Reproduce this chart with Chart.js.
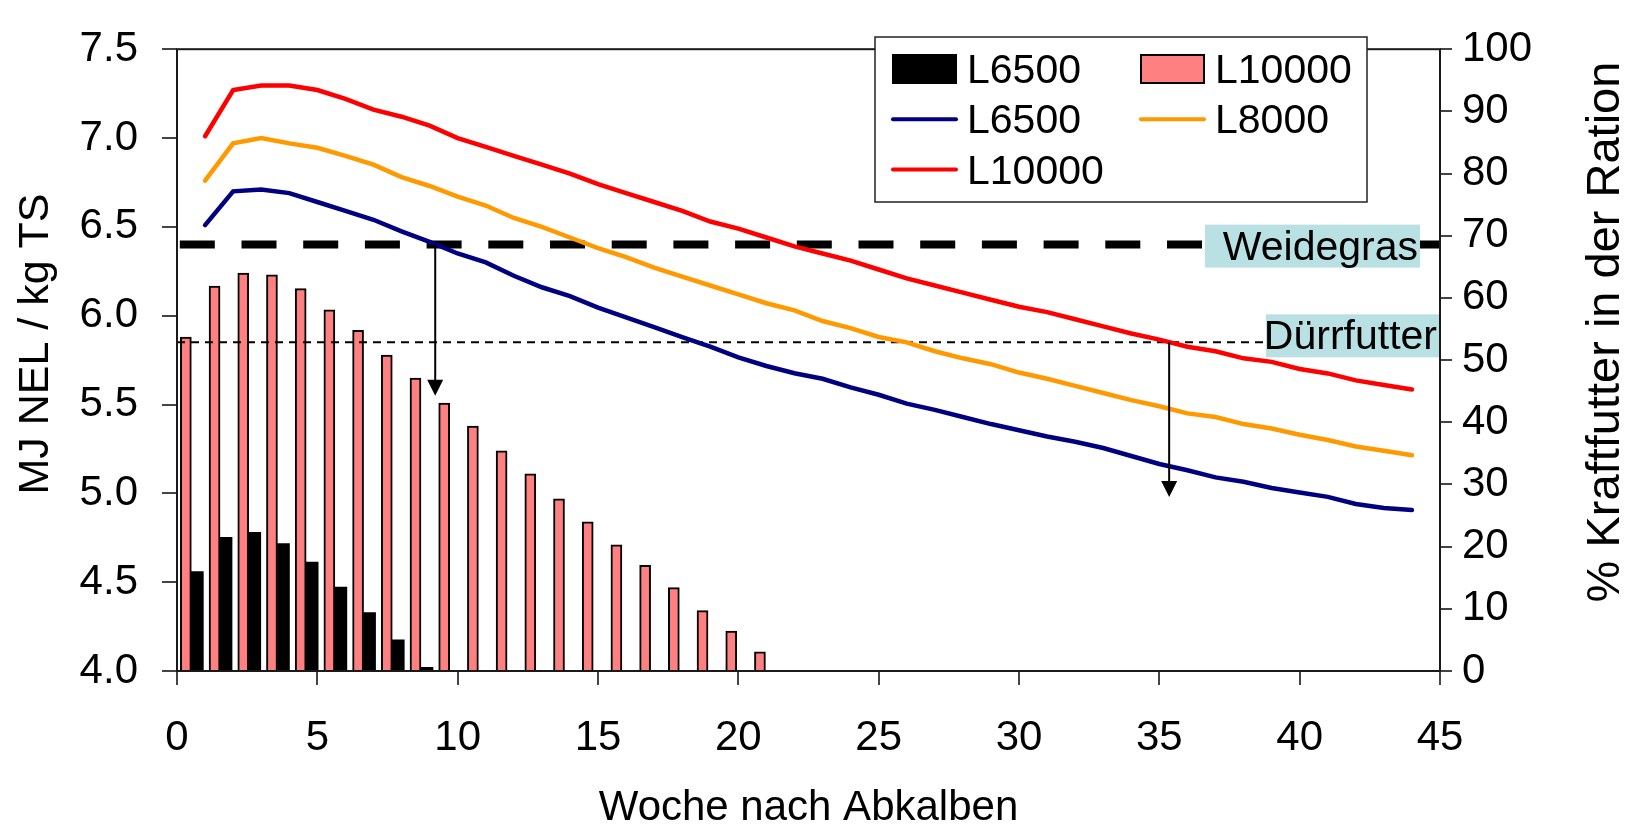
<!DOCTYPE html>
<html>
<head>
<meta charset="utf-8">
<script src="https://cdn.jsdelivr.net/npm/chart.js@4/dist/chart.umd.min.js"></script>
<style>
  html, body { margin: 0; padding: 0; background: #fff; }
  #wrap { width: 1627px; height: 830px; position: relative; }
</style>
</head>
<body>
<div id="wrap"><canvas id="chart"></canvas></div>
<script>
// Wochen nach dem Abkalben
const weeks = [1, 2, 3, 4, 5, 6, 7, 8, 9, 10, 11, 12, 13, 14, 15, 16, 17, 18, 19, 20, 21, 22,
               23, 24, 25, 26, 27, 28, 29, 30, 31, 32, 33, 34, 35, 36, 37, 38, 39, 40, 41, 42, 43, 44];

// Energiebedarf in der Ration (MJ NEL / kg TS)
const nel6500 = [6.51, 6.70, 6.71, 6.69, 6.64, 6.59, 6.54, 6.475, 6.415, 6.35, 6.30, 6.225, 6.16, 6.11, 6.045,
                 5.99, 5.935, 5.88, 5.826, 5.765, 5.717, 5.676, 5.645, 5.596, 5.555, 5.505, 5.47, 5.43, 5.39, 5.355,
                 5.32, 5.29, 5.255, 5.21, 5.165, 5.13, 5.09, 5.065, 5.03, 5.005, 4.98, 4.94, 4.917, 4.906];
const nel8000 = [6.76, 6.97, 7.00, 6.97, 6.945, 6.90, 6.85, 6.78, 6.73, 6.67, 6.62, 6.55, 6.50, 6.44, 6.38,
                 6.33, 6.27, 6.22, 6.17, 6.12, 6.07, 6.03, 5.97, 5.93, 5.88, 5.85, 5.80, 5.76, 5.727, 5.68,
                 5.645, 5.605, 5.565, 5.525, 5.49, 5.45, 5.43, 5.39, 5.365, 5.33, 5.30, 5.264, 5.24, 5.214];
const nel10000 = [7.01, 7.27, 7.295, 7.295, 7.27, 7.22, 7.16, 7.12, 7.07, 7.00, 6.95, 6.90, 6.85, 6.80, 6.74,
                  6.69, 6.64, 6.59, 6.53, 6.49, 6.44, 6.39, 6.35, 6.31, 6.26, 6.21, 6.17, 6.13, 6.09, 6.05,
                  6.02, 5.98, 5.94, 5.90, 5.865, 5.825, 5.80, 5.76, 5.74, 5.70, 5.675, 5.636, 5.61, 5.585];

// Kraftfutteranteil in der Ration (%)
const kf6500 = [16.0, 21.5, 22.3, 20.5, 17.5, 13.5, 9.4, 5.0, 0.6];
const kf10000 = [53.7, 61.9, 64.0, 63.7, 61.5, 58.1, 54.8, 50.8, 47.1, 43.1, 39.4,
                 35.4, 31.7, 27.7, 24.0, 20.3, 17.0, 13.4, 9.7, 6.4, 3.1];

// Grundfutter-Niveaus und Pfeile (Woche, von, bis)
const weidegras = 6.4;
const duerrfutter = 5.85;
const arrows = [
  { week: 9.2, from: 6.4, to: 5.55 },
  { week: 35.35, from: 5.85, to: 4.98 }
];

const FONT = "'Liberation Sans', Arial, sans-serif";
const PINK = '#FF8080';

// Senkrechter Text, von unten nach oben gelesen
function vText(ctx, text, x, y, size) {
  ctx.save();
  ctx.translate(x, y);
  ctx.rotate(-Math.PI / 2);
  ctx.font = size + 'px ' + FONT;
  ctx.textAlign = 'center';
  ctx.textBaseline = 'alphabetic';
  ctx.fillStyle = '#000';
  ctx.fillText(text, 0, 0);
  ctx.restore();
}

const decor = {
  id: 'decor',
  afterDatasetsDraw(chart) {
    const { ctx, chartArea: a, scales } = chart;
    const xs = scales.x, ys = scales.y;
    ctx.save();

    // Beschriftungen der Grundfutterlinien
    ctx.font = '41px ' + FONT;
    ctx.textAlign = 'right';
    ctx.textBaseline = 'alphabetic';
    let yw = ys.getPixelForValue(weidegras);
    ctx.fillStyle = '#B9E0E3';
    ctx.fillRect(a.right - 235, yw - 20, 215, 43);
    ctx.fillStyle = '#000';
    ctx.fillText('Weidegras', a.right - 22, yw + 15);

    let yd = ys.getPixelForValue(duerrfutter);
    ctx.fillStyle = '#B9E0E3';
    ctx.fillRect(a.right - 174, yd - 28, 174, 43);
    ctx.fillStyle = '#000';
    ctx.fillText('Dürrfutter', a.right - 3, yd + 7);

    // Pfeile
    ctx.strokeStyle = '#000';
    ctx.fillStyle = '#000';
    ctx.lineWidth = 2;
    arrows.forEach(ar => {
      const px = xs.getPixelForValue(ar.week);
      const y0 = ys.getPixelForValue(ar.from);
      const y1 = ys.getPixelForValue(ar.to);
      ctx.beginPath();
      ctx.moveTo(px, y0);
      ctx.lineTo(px, y1 - 10);
      ctx.stroke();
      ctx.beginPath();
      ctx.moveTo(px - 8, y1 - 16);
      ctx.lineTo(px + 8, y1 - 16);
      ctx.lineTo(px, y1);
      ctx.closePath();
      ctx.fill();
    });

    // Rahmen des Diagrammbereichs
    ctx.lineWidth = 2;
    ctx.strokeStyle = '#1a1a1a';
    ctx.strokeRect(a.left, a.top, a.right - a.left, a.bottom - a.top);

    // Achsentitel links und rechts
    vText(ctx, 'MJ NEL / kg TS', 48, 344, 43);
    vText(ctx, '% Kraftfutter in der Ration', 1619, 332, 47);

    // Legende
    const lx = 875, ly = 37, lw = 492, lh = 165;
    ctx.fillStyle = '#fff';
    ctx.fillRect(lx, ly, lw, lh);
    ctx.lineWidth = 1.5;
    ctx.strokeStyle = '#222';
    ctx.strokeRect(lx, ly, lw, lh);

    const ds = chart.data.datasets;
    const items = [
      { d: ds[4], col: 0, row: 0 },
      { d: ds[3], col: 1, row: 0 },
      { d: ds[0], col: 0, row: 1 },
      { d: ds[1], col: 1, row: 1 },
      { d: ds[2], col: 0, row: 2 }
    ];
    ctx.font = '41px ' + FONT;
    ctx.textAlign = 'left';
    ctx.textBaseline = 'alphabetic';
    items.forEach(it => {
      const sx = lx + 17 + it.col * 248;
      const base = ly + 46 + it.row * 50.3;
      const cy = base - 14;
      if (it.d.type === 'line') {
        ctx.strokeStyle = it.d.borderColor;
        ctx.lineWidth = 4;
        ctx.lineCap = 'round';
        ctx.beginPath();
        ctx.moveTo(sx + 1, cy);
        ctx.lineTo(sx + 64, cy);
        ctx.stroke();
      } else {
        ctx.fillStyle = it.d.backgroundColor;
        ctx.fillRect(sx, cy - 15, 65, 30);
        if (it.d.borderWidth) {
          ctx.lineWidth = 2;
          ctx.strokeStyle = '#000';
          ctx.strokeRect(sx + 1, cy - 14, 63, 28);
        }
      }
      ctx.fillStyle = '#000';
      ctx.fillText(it.d.label, sx + 75, base);
    });

    ctx.restore();
  }
};

const linePts = vals => weeks.map((w, i) => ({ x: w, y: vals[i] }));

new Chart(document.getElementById('chart'), {
  type: 'bar',
  data: {
    labels: weeks,
    datasets: [
      { type: 'line', label: 'L6500', data: linePts(nel6500), xAxisID: 'x', yAxisID: 'y',
        borderColor: '#000080', borderWidth: 4.5, pointRadius: 0, tension: 0, borderCapStyle: 'round', order: 1 },
      { type: 'line', label: 'L8000', data: linePts(nel8000), xAxisID: 'x', yAxisID: 'y',
        borderColor: '#FF9900', borderWidth: 4.5, pointRadius: 0, tension: 0, borderCapStyle: 'round', order: 1 },
      { type: 'line', label: 'L10000', data: linePts(nel10000), xAxisID: 'x', yAxisID: 'y',
        borderColor: '#FF0000', borderWidth: 4.5, pointRadius: 0, tension: 0, borderCapStyle: 'round', order: 1 },
      { type: 'bar', label: 'L10000', data: kf10000, xAxisID: 'xBar', yAxisID: 'y2',
        backgroundColor: PINK, borderColor: '#000', borderWidth: 2, barThickness: 11, order: 3 },
      { type: 'bar', label: 'L6500', data: kf6500, xAxisID: 'xBar', yAxisID: 'y2',
        backgroundColor: '#000', borderWidth: 0, barThickness: 12, order: 3 },
      { type: 'line', label: 'Weidegras', data: [{ x: 0.1, y: weidegras }, { x: 45, y: weidegras }],
        xAxisID: 'x', yAxisID: 'y', borderColor: '#000', borderWidth: 8, borderDash: [35, 26.7],
        borderCapStyle: 'butt', pointRadius: 0, order: 2 },
      { type: 'line', label: 'Dürrfutter', data: [{ x: 0, y: duerrfutter }, { x: 45, y: duerrfutter }],
        xAxisID: 'x', yAxisID: 'y', borderColor: '#000', borderWidth: 2, borderDash: [8, 6],
        borderCapStyle: 'butt', pointRadius: 0, order: 2 }
    ]
  },
  options: {
    responsive: true,
    maintainAspectRatio: false,
    animation: false,
    layout: { padding: { top: 27, left: 0, right: 0, bottom: 0 } },
    plugins: { legend: { display: false }, tooltip: { enabled: false } },
    scales: {
      x: {
        type: 'linear', position: 'bottom', min: 0, max: 45, offset: false,
        grid: { display: true, drawOnChartArea: false, offset: false, tickLength: 14, color: '#444', lineWidth: 2 },
        border: { display: false },
        ticks: { stepSize: 5, padding: 28, color: '#000', font: { family: FONT, size: 42 } },
        title: { display: true, text: 'Woche nach Abkalben', color: '#000', padding: { top: 0, bottom: 1 },
                 font: { family: FONT, size: 42, lineHeight: 1 } },
        afterFit: s => { s.height = 159; }
      },
      xBar: {
        type: 'category', display: false, offset: true, labels: weeks,
        grid: { offset: true }
      },
      y: {
        position: 'left', min: 4, max: 7.5,
        grid: { display: true, drawOnChartArea: false, tickLength: 15, color: '#444', lineWidth: 2 },
        border: { display: false },
        ticks: { stepSize: 0.5, padding: 24, color: '#000', font: { family: FONT, size: 42 },
                 callback: v => v.toFixed(1) },
        afterFit: s => { s.width = 177; }
      },
      y2: {
        position: 'right', min: 0, max: 100,
        grid: { display: true, drawOnChartArea: false, tickLength: 12, color: '#444', lineWidth: 2 },
        border: { display: false },
        ticks: { stepSize: 10, padding: 10, color: '#000', font: { family: FONT, size: 42 } },
        afterFit: s => { s.width = 187; }
      }
    }
  },
  plugins: [decor]
});
</script>
</body>
</html>
